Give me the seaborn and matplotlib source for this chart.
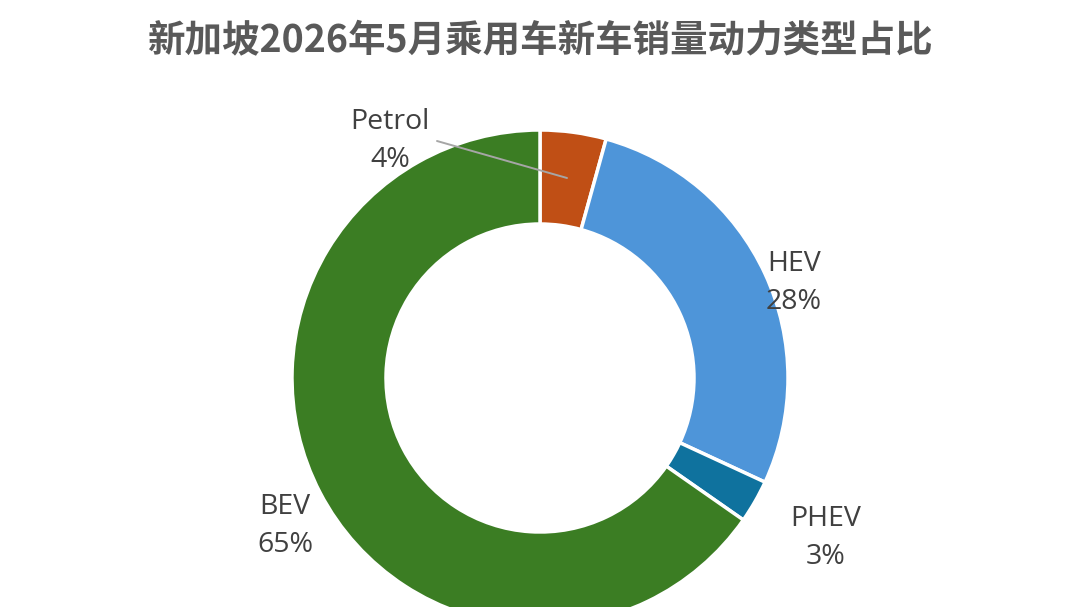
import matplotlib.pyplot as plt
import seaborn as sns

sns.set_theme(style="white")
plt.rcParams["font.family"] = ["Noto Sans CJK SC", "DejaVu Sans"]

###
# Data
###
fuel_types = ["Petrol", "HEV", "PHEV", "BEV"]
shares = [4.3, 27.6, 2.8, 65.3]
colors = ["#C04F15", "#4E95D9", "#0F729E", "#3B7D23"]

title = "新加坡2026年5月乘用车新车销量动力类型占比"

# label anchor points (pixel layout, y measured from top)
label_pos = {
    "Petrol": (390, 141),
    "HEV": (794, 283),
    "PHEV": (826, 538),
    "BEV": (285, 526),
}

W, H = 1080, 607
fig = plt.figure(figsize=(W / 100, H / 100), dpi=100)
ax = fig.add_axes([0, 0, 1, 1])

cx, cy = 540, H - 378
ax.pie(
    shares,
    colors=colors,
    startangle=90,
    counterclock=False,
    center=(cx, cy),
    radius=248,
    wedgeprops=dict(width=94, edgecolor="white", linewidth=2.5),
    frame=True,
)
ax.set_xlim(0, W)
ax.set_ylim(0, H)
ax.set_aspect("equal")
ax.axis("off")

total = sum(shares)
for name, val in zip(fuel_types, shares):
    x, y = label_pos[name]
    ax.text(
        x, H - y,
        f"{name}\n{val / total * 100:.0f}%",
        ha="center", va="center",
        fontsize=20.5, color="#404040",
        family=["Open Sans", "DejaVu Sans"],
        linespacing=1.5,
    )

# leader line for the small Petrol slice
ax.plot([437, 567], [H - 141, H - 178], color="#A6A6A6", linewidth=1.4)

fig.text(
    0.5, 1 - 41 / H, title,
    ha="center", va="center",
    fontsize=27, fontweight="bold", color="#595959",
)

fig.savefig("out.png", dpi=100)
